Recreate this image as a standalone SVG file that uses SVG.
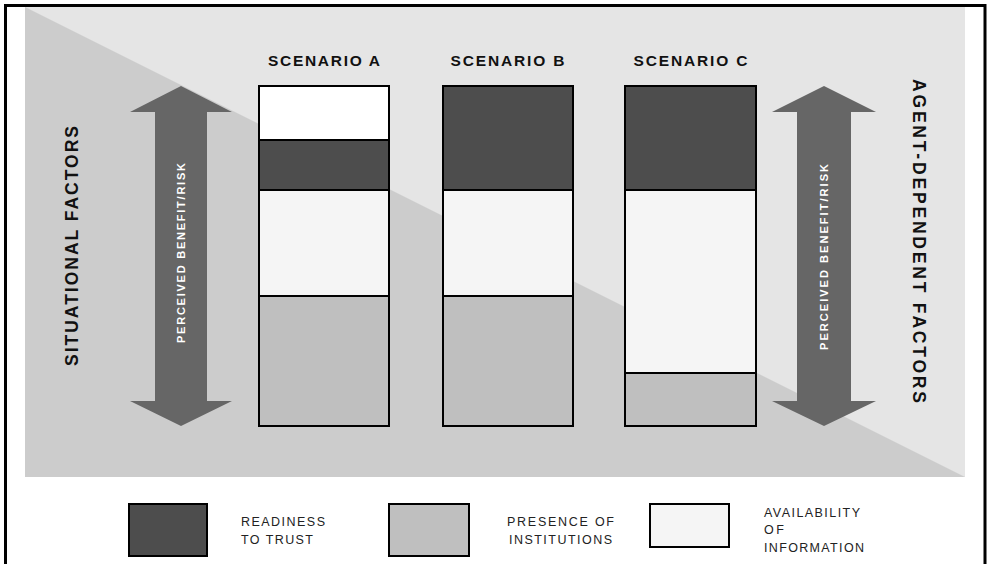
<svg xmlns="http://www.w3.org/2000/svg" width="992" height="564" viewBox="0 0 992 564">
<style>
.bar{stroke:#000;stroke-width:2}
.dark{fill:#4d4d4d}
.gray{fill:#bfbfbf}
.light{fill:#f5f5f5}
.white{fill:#ffffff}
.arrow{fill:#666666}
.title{font-family:"Liberation Sans",Arial,sans-serif;font-weight:bold;font-size:15.5px;fill:#111;text-anchor:middle}
.side{font-family:"Liberation Sans",Arial,sans-serif;font-weight:bold;font-size:17.5px;fill:#111;text-anchor:middle}
.pbr{font-family:"Liberation Sans",Arial,sans-serif;font-weight:bold;font-size:11px;fill:#ffffff;text-anchor:middle}
.leg{font-family:"Liberation Sans",Arial,sans-serif;font-size:12.5px;fill:#222}
</style>
<rect width="992" height="564" fill="#ffffff"/>
<g id="background">
<rect x="25" y="7" width="940" height="470" fill="#e5e5e5"/>
<polygon points="25,7 25,477 965,477" fill="#cccccc"/>
</g>
<path d="M5.5,564 V5.5 H985 V564" fill="none" stroke="#000" stroke-width="3"/>
<g id="label-situational">
<text class="side" transform="translate(77.5,246) rotate(-90)" textLength="240" lengthAdjust="spacing">SITUATIONAL FACTORS</text>
</g>
<g id="label-agent">
<text class="side" transform="translate(912.5,241) rotate(90)" textLength="324" lengthAdjust="spacing">AGENT-DEPENDENT FACTORS</text>
</g>
<g id="arrow-left">
<polygon class="arrow" points="181,86 232,112 207,112 207,401 232,401 181,426 130,401 155,401 155,112 130,112"/>
<text class="pbr" transform="translate(184.5,253) rotate(-90)" textLength="180" lengthAdjust="spacing">PERCEIVED BENEFIT/RISK</text>
</g>
<g id="arrow-right">
<polygon class="arrow" points="824,86 876,112 851,112 851,401 876,401 824,426 772,401 797,401 797,112 772,112"/>
<text class="pbr" transform="translate(828,257) rotate(-90)" textLength="186" lengthAdjust="spacing">PERCEIVED BENEFIT/RISK</text>
</g>
<g id="scenario-a">
<text class="title" x="324" y="65.5" textLength="112" lengthAdjust="spacing">SCENARIO A</text>
<rect class="bar white" x="259" y="86" width="130" height="54"/>
<rect class="bar dark" x="259" y="140" width="130" height="50"/>
<rect class="bar light" x="259" y="190" width="130" height="106"/>
<rect class="bar gray" x="259" y="296" width="130" height="130"/>
</g>
<g id="scenario-b">
<text class="title" x="507.5" y="65.5" textLength="114" lengthAdjust="spacing">SCENARIO B</text>
<rect class="bar dark" x="443" y="86" width="130" height="104"/>
<rect class="bar light" x="443" y="190" width="130" height="106"/>
<rect class="bar gray" x="443" y="296" width="130" height="130"/>
</g>
<g id="scenario-c">
<text class="title" x="690.5" y="65.5" textLength="114" lengthAdjust="spacing">SCENARIO C</text>
<rect class="bar dark" x="625" y="86" width="131" height="104"/>
<rect class="bar light" x="625" y="190" width="131" height="183"/>
<rect class="bar gray" x="625" y="373" width="131" height="53"/>
</g>
<g id="legend-trust">
<rect class="bar dark" x="129" y="504" width="78" height="52"/>
<text class="leg" x="241" y="526" textLength="84" lengthAdjust="spacing">READINESS</text>
<text class="leg" x="241" y="544" textLength="72" lengthAdjust="spacing">TO TRUST</text>
</g>
<g id="legend-institutions">
<rect class="bar gray" x="389" y="504" width="80" height="52"/>
<text class="leg" x="507" y="526" textLength="107" lengthAdjust="spacing">PRESENCE OF</text>
<text class="leg" x="509" y="544" textLength="103" lengthAdjust="spacing">INSTITUTIONS</text>
</g>
<g id="legend-information">
<rect class="bar light" x="650" y="504" width="79" height="43"/>
<text class="leg" x="764" y="517" textLength="96" lengthAdjust="spacing">AVAILABILITY</text>
<text class="leg" x="764" y="534" textLength="20" lengthAdjust="spacing">OF</text>
<text class="leg" x="764" y="552" textLength="100" lengthAdjust="spacing">INFORMATION</text>
</g>
<g id="connectors"></g>
</svg>
